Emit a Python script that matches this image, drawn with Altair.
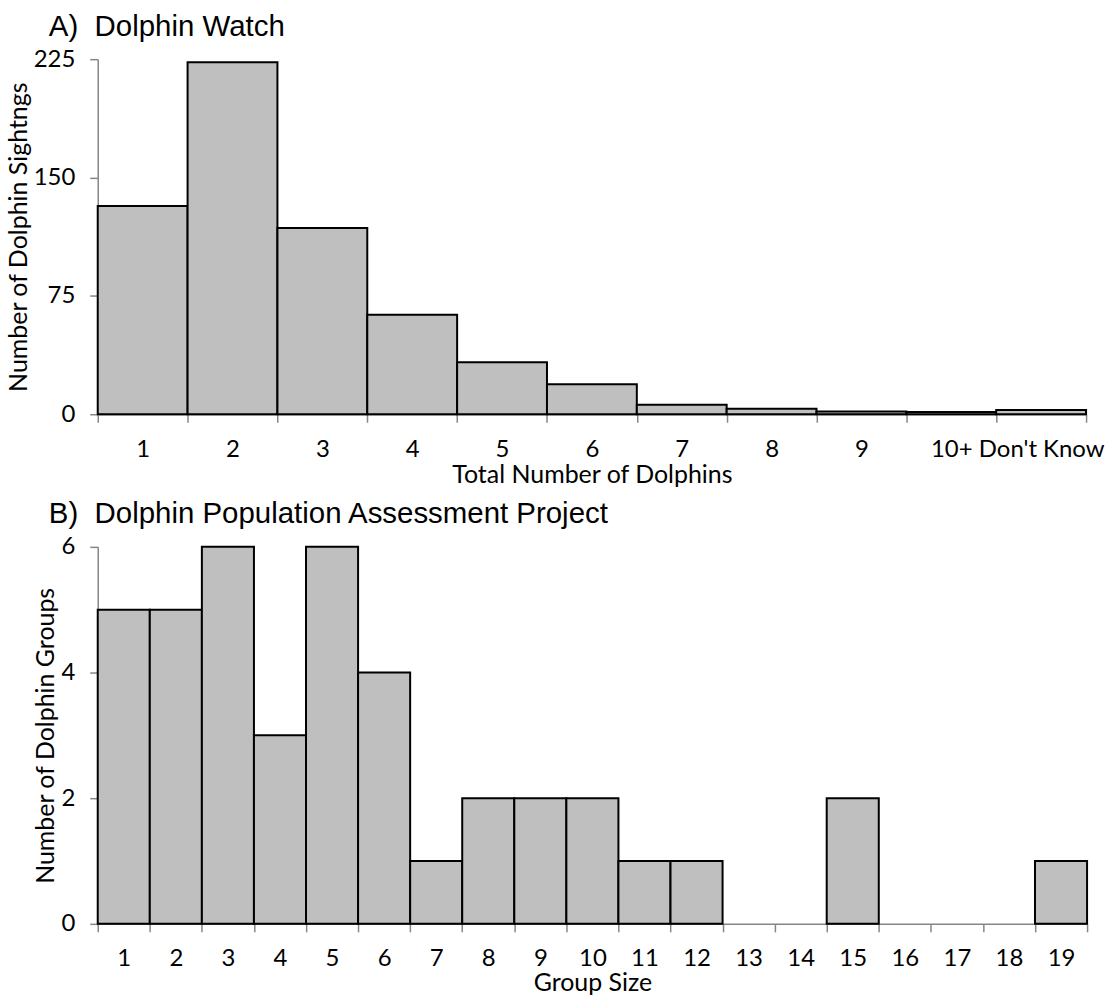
import altair as alt
import pandas as pd

# Panel A: Dolphin Watch
a_categories = ["1", "2", "3", "4", "5", "6", "7", "8", "9", "10+", "Don't Know"]
a_counts = [132, 223, 118, 63, 33, 19, 6, 3.5, 1.7, 1.4, 2.7]

# Panel B: Dolphin Population Assessment Project
b_categories = ["1", "2", "3", "4", "5", "6", "7", "8", "9", "10",
                "11", "12", "13", "14", "15", "16", "17", "18", "19"]
b_counts = [5, 5, 6, 3, 6, 4, 1, 2, 2, 2, 1, 1, 0, 0, 2, 0, 0, 0, 1]

a_ticks = [0, 75, 150, 225]
b_ticks = [0, 2, 4, 6]

df_a = pd.DataFrame({"cat": a_categories, "n": a_counts})
df_b = pd.DataFrame({"cat": b_categories, "n": b_counts})

AX_FONT = "Lato"
NBSP = "\u00a0"


def panel(df, cats, title, xtitle, ytitle, ymax, yticks, w, h, xtitle_pad):
    return (
        alt.Chart(df, title=alt.Title(title))
        .mark_bar(fill="#BFBFBF", stroke="black", strokeWidth=2)
        .encode(
            x=alt.X(
                "cat:N",
                sort=cats,
                scale=alt.Scale(domain=cats, paddingInner=0, paddingOuter=0),
                axis=alt.Axis(
                    title=xtitle,
                    labelAngle=0,
                    tickBand="extent",
                    titlePadding=xtitle_pad,
                ),
            ),
            y=alt.Y(
                "n:Q",
                scale=alt.Scale(domain=[0, ymax], nice=False),
                axis=alt.Axis(values=yticks, title=ytitle, titlePadding=2),
            ),
            strokeOpacity=alt.condition("datum.n == 0", alt.value(0), alt.value(1)),
        )
        .properties(width=w, height=h)
    )


chart_a = panel(df_a, a_categories, "A)" + NBSP * 2 + "Dolphin Watch", "Total Number of Dolphins",
                "Number of Dolphin Sightngs", 225, a_ticks, 991, 356, 1)
chart_b = panel(df_b, b_categories, "B)" + NBSP * 2 + "Dolphin Population Assessment Project",
                "Group Size", "Number of Dolphin Groups", 6, b_ticks, 992, 378, 0)

chart = (
    alt.vconcat(chart_a, chart_b, spacing=12)
    .properties(padding={"left": 6, "top": 10, "right": 5, "bottom": 0})
    .configure_view(stroke=None)
    .configure_axis(
        domainColor="#868686",
        domainWidth=1.5,
        tickColor="#868686",
        tickWidth=1.5,
        tickSize=8,
        labelFont=AX_FONT,
        labelFontSize=24,
        labelColor="black",
        titleFont=AX_FONT,
        titleFontSize=25,
        titleFontWeight="normal",
        titleColor="black",
        labelPadding=15,
        grid=False,
        zindex=1,
    )
    .configure_title(
        font="Liberation Sans",
        fontSize=29.5,
        fontWeight="normal",
        color="black",
        anchor="start",
        frame="group",
        dx=-49,
        offset=5,
    )
)

chart.save("out.html", embed_options={"renderer": "svg", "actions": False})
